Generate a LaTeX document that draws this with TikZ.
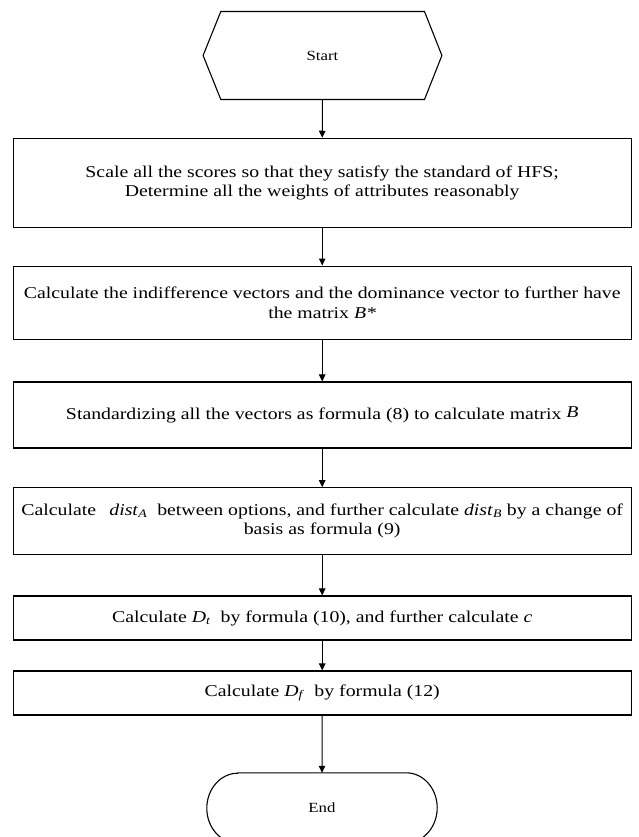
\documentclass[tikz,border=0pt]{standalone}
\usepackage{fontspec}
\setmainfont{Liberation Serif}[FakeStretch=1.2]
\usetikzlibrary{arrows.meta}
\begin{document}
\begin{tikzpicture}[x=1pt,y=-1pt,
  box/.style={draw, line width=1.1pt, minimum width=618pt, inner sep=0pt, align=center,
    font=\fontsize{16.5}{19.5}\selectfont},
  term/.style={inner sep=0pt, font=\fontsize{14}{16}\selectfont},
  outline/.style={draw, line width=1.1pt},
  arr/.style={-{Triangle[length=7pt,width=6.5pt]}, line width=1pt}]
\useasboundingbox (0,0) rectangle (638,837);

% terminals
\node[term, minimum width=238.4pt, minimum height=87.6pt] (start) at (322.5,55.5) {Start};
\draw[outline] (start.west) -- ([xshift=17.7pt]start.north west) -- ([xshift=-17.4pt]start.north east)
  -- (start.east) -- ([xshift=-17.4pt]start.south east) -- ([xshift=17.7pt]start.south west) -- cycle;

\node[box, minimum height=89pt] (b1) at (322.2,182.8)
  {Scale all the scores so that they satisfy the standard of HFS;\\
   Determine all the weights of attributes reasonably};
\node[box, minimum height=73.3pt] (b2) at (322.2,302.7)
  {Calculate the indifference vectors and the dominance vector to further have\\
   the matrix \textit{B*}};
\node[box, minimum height=66pt] (b3) at (322.2,415)
  {Standardizing all the vectors as formula (8) to calculate matrix \raisebox{2pt}{\textit{B}}};
\node[box, minimum height=66.3pt] (b4) at (322.2,520.9)
  {Calculate\hspace{0.8em}\textit{dist}\textsubscript{\textit{A}}\hspace{0.3em} between options, and further calculate \textit{dist}\textsubscript{\textit{B}} by a change of\\
   basis as formula (9)};
\node[box, minimum height=44pt] (b5) at (322.2,618)
  {Calculate \textit{D}\textsubscript{\textit{t}}\hspace{0.3em} by formula (10), and further calculate \textit{c}};
\node[box, minimum height=44pt] (b6) at (322.2,693)
  {Calculate \textit{D}\textsubscript{\textit{f}}\hspace{0.3em} by formula (12)};

\node[term, minimum width=230pt, minimum height=70pt] (end) at (322,808) {End};
\draw[outline] ([xshift=31pt]end.north west) -- ([xshift=-31pt]end.north east)
  arc[start angle=90, end angle=-90, x radius=31pt, y radius=35pt]
  -- ([xshift=31pt]end.south west)
  arc[start angle=270, end angle=90, x radius=31pt, y radius=35pt] -- cycle;

% connectors
\draw[arr] (start.south) -- (b1.north);
\draw[arr] (b1.south) -- (b2.north);
\draw[arr] (b2.south) -- (b3.north);
\draw[arr] (b3.south) -- (b4.north);
\draw[arr] (b4.south) -- (b5.north);
\draw[arr] (b5.south) -- (b6.north);
\draw[arr] (b6.south) -- (end.north);
\end{tikzpicture}
\end{document}
